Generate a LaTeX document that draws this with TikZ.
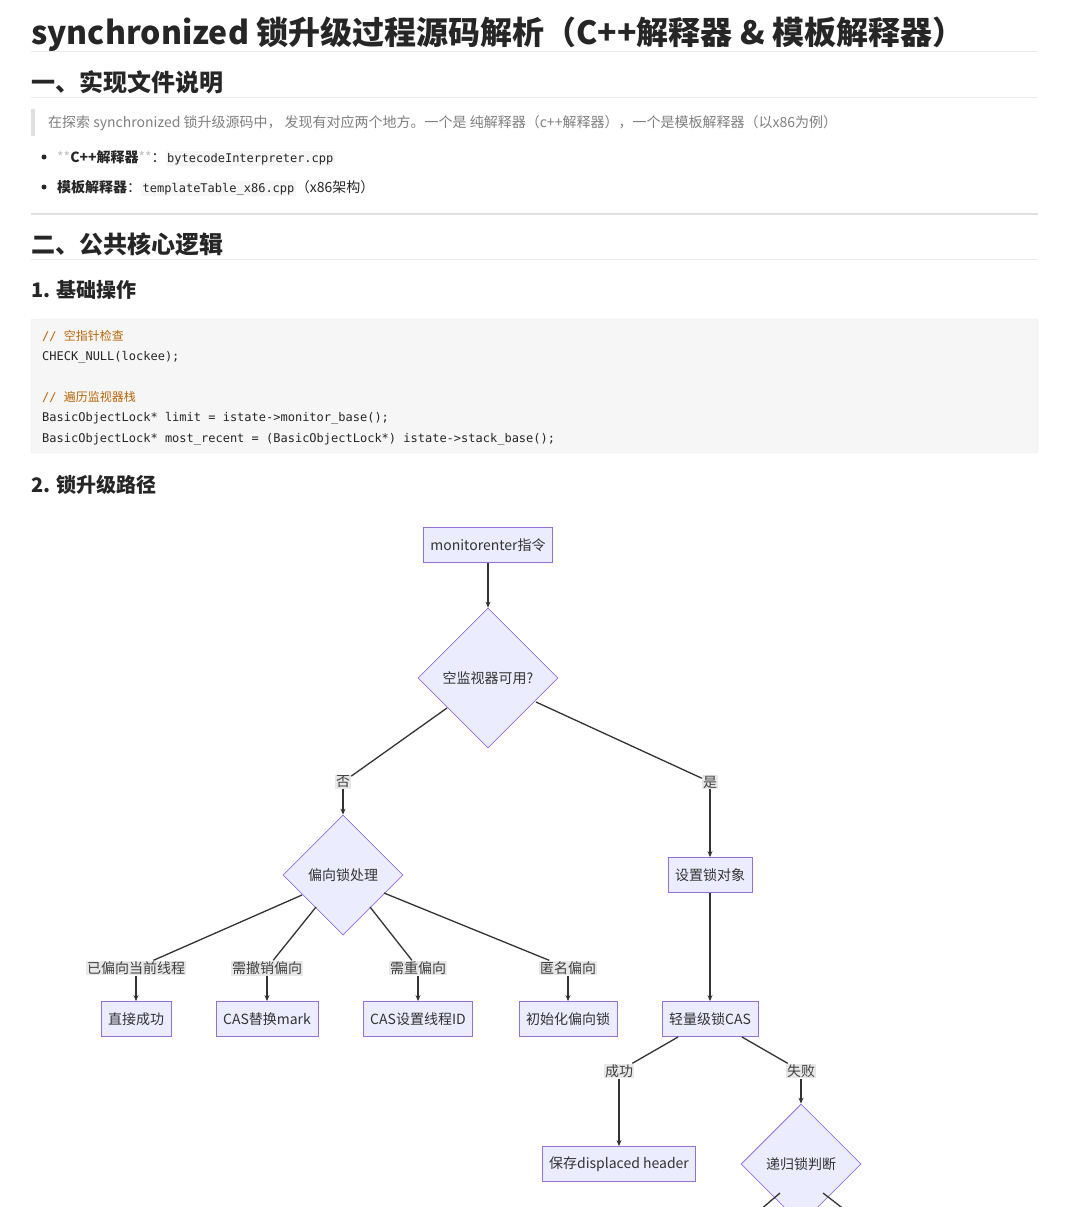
\documentclass[tikz,border=0pt]{standalone}
\usepackage{fontspec}
\setmainfont{Noto Sans CJK SC}
\newfontfamily\cjkb{Noto Sans CJK SC}[BoldFont={Noto Sans CJK SC Bold}]
\setmonofont{DejaVu Sans Mono}
\usetikzlibrary{shapes.geometric,arrows.meta}
\definecolor{nfill}{HTML}{ECECFF}
\definecolor{nline}{HTML}{9370DB}
\definecolor{cbg}{HTML}{F6F6F6}
\definecolor{ccom}{HTML}{B8660B}
\newcommand{\icode}[1]{{\setlength{\fboxsep}{1.5pt}\colorbox{cbg}{\ttfamily\fontsize{12}{12}\selectfont #1}}}
\begin{document}
\begin{tikzpicture}[x=1pt,y=-1pt,
  txt/.style={anchor=base west,inner sep=0},
  box/.style={draw=nline,fill=nfill,line width=0.8pt,minimum height=35pt,inner xsep=7pt,font=\fontsize{14}{14}\selectfont,text=black!80},
  dia/.style={draw=nline,fill=nfill,line width=0.8pt,diamond,aspect=1,inner sep=1pt,font=\fontsize{14}{14}\selectfont,text=black!80},
  lbl/.style={fill=black!9,inner sep=1pt,font=\fontsize{14}{14}\selectfont,text=black!75},
  edge/.style={draw=black!80,line width=1.3pt},
  arr/.style={edge,-{Stealth[length=6pt,width=5pt]}}]
\useasboundingbox (0,0) rectangle (1080,1207);
\fill[white] (0,0) rectangle (1080,1207);
% header
\node[txt,font=\fontsize{32}{32}\selectfont\bfseries,text=black!85] (t) at (31,45) {synchronized 锁升级过程源码解析（C++解释器 \& 模板解释器）};
\draw[black!8] (31,51) -- (1038,51);
\node[txt,font=\fontsize{24}{24}\selectfont\bfseries,text=black!85] (h1) at (31,91) {一、实现文件说明};
\draw[black!8] (31,97) -- (1038,97);
\fill[black!12] (31,109) rectangle (35,136);
\node[txt,font=\fontsize{14}{14}\selectfont,text=black!50] (q) at (48,127) {在探索 synchronized 锁升级源码中， 发现有对应两个地方。一个是 纯解释器（c++解释器），一个是模板解释器（以x86为例）};
\fill[black!85] (44,157) circle (2.5);
\node[txt,font=\fontsize{14}{14}\selectfont,text=black!85] (b1) at (57,162) {\textcolor{black!25}{**}\textbf{C++解释器}\textcolor{black!25}{**}：\icode{bytecodeInterpreter.cpp}};
\fill[black!85] (44,187) circle (2.5);
\node[txt,font=\fontsize{14}{14}\selectfont,text=black!85] (b2) at (57,192) {\textbf{模板解释器}：\icode{templateTable\_x86.cpp}（x86架构）};
\draw[black!12,line width=2pt] (31,214) -- (1038,214);
\node[txt,font=\fontsize{24}{24}\selectfont\bfseries,text=black!85] (h2) at (31,253) {二、公共核心逻辑};
\draw[black!8] (31,259) -- (1038,259);
\node[txt,font=\fontsize{20}{20}\selectfont\bfseries,text=black!85] (h3) at (31,297) {1. 基础操作};
\filldraw[fill=cbg,draw=black!8,rounded corners=2pt] (31,319) rectangle (1038,453);
\begin{scope}[every node/.style={txt,font=\ttfamily\fontsize{12}{12}\selectfont,text=black!85}]
\node (c1) at (42,340) {\textcolor{ccom}{// \rmfamily 空指针检查}};
\node (c2) at (42,360) {CHECK\_NULL(lockee);};
\node (c3) at (42,401) {\textcolor{ccom}{// \rmfamily 遍历监视器栈}};
\node (c4) at (42,421) {BasicObjectLock* limit = istate->monitor\_base();};
\node (c5) at (42,442) {BasicObjectLock* most\_recent = (BasicObjectLock*) istate->stack\_base();};
\end{scope}
\node[txt,font=\fontsize{20}{20}\selectfont\bfseries,text=black!85] (h4) at (31,492) {2. 锁升级路径};
% diagram
\node[box] (me) at (488,545) {monitorenter指令};
\node[dia,minimum size=140pt] (d1) at (488,678) {空监视器可用?};
\node[lbl] (lno) at (343,782) {否};
\node[lbl] (lyes) at (710,782) {是};
\node[dia,minimum size=120pt] (d2) at (343,875) {偏向锁处理};
\node[box] (set) at (710,875) {设置锁对象};
\node[lbl] (l1) at (136,968) {已偏向当前线程};
\node[lbl] (l2) at (267,968) {需撤销偏向};
\node[lbl] (l3) at (418,968) {需重偏向};
\node[lbl] (l4) at (568,968) {匿名偏向};
\node[box] (n1) at (136,1019) {直接成功};
\node[box] (n2) at (267,1019) {CAS替换mark};
\node[box] (n3) at (418,1019) {CAS设置线程ID};
\node[box] (n4) at (568,1019) {初始化偏向锁};
\node[box] (n5) at (710,1019) {轻量级锁CAS};
\node[lbl] (ls) at (619,1071) {成功};
\node[lbl] (lf) at (801,1071) {失败};
\node[box] (n6) at (619,1164) {保存displaced header};
\node[dia,minimum size=120pt] (d3) at (801,1164) {递归锁判断};
\coordinate (e1) at (760,1210);
\coordinate (e2) at (845,1210);
\draw[arr] (me) -- (d1);
\draw[edge] (447,708) -- (lno);
\draw[arr] (lno) -- (d2);
\draw[edge] (536,702) -- (lyes);
\draw[arr] (lyes) -- (set);
\draw[arr] (set) -- (n5);
\draw[edge] (302,895) -- (l1);
\draw[edge] (316,907) -- (l2);
\draw[edge] (370,907) -- (l3);
\draw[edge] (384,893) -- (l4);
\draw[arr] (l1) -- (n1);
\draw[arr] (l2) -- (n2);
\draw[arr] (l3) -- (n3);
\draw[arr] (l4) -- (n4);
\draw[edge] (678,1037) -- (ls);
\draw[edge] (742,1037) -- (lf);
\draw[arr] (ls) -- (n6);
\draw[arr] (lf) -- (d3);
\draw[edge] (780,1193) -- (e1);
\draw[edge] (823,1193) -- (e2);
\end{tikzpicture}
\end{document}
